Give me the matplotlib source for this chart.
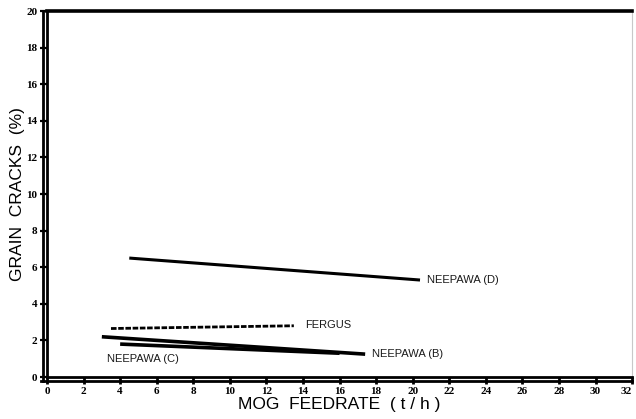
import matplotlib
matplotlib.use("Agg")
import matplotlib.pyplot as plt
import matplotlib.transforms as mtransforms
from matplotlib.lines import Line2D

# Regression lines of grain cracks against MOG feedrate
neepawa_d_x = [4.5, 20.4]
neepawa_d_y = [6.5, 5.3]
fergus_x = [3.5, 13.5]
fergus_y = [2.65, 2.8]
neepawa_b_x = [3.0, 17.4]
neepawa_b_y = [2.2, 1.25]
neepawa_c_x = [4.0, 16.0]
neepawa_c_y = [1.8, 1.3]

x_ticks = list(range(0, 33, 2))
y_ticks = list(range(0, 21, 2))

fig = plt.figure(figsize=(6.36, 4.19), dpi=100)
ax = fig.add_axes([0.0739, 0.1002, 0.92, 0.8735])
ax.set_xlim(0, 32)
ax.set_ylim(0, 20)

ax.plot(neepawa_d_x, neepawa_d_y, color="black", lw=2.2, solid_capstyle="butt")
ax.plot(fergus_x, fergus_y, color="black", lw=2.0, linestyle=(0, (2.0, 0.6)))
ax.plot(neepawa_b_x, neepawa_b_y, color="black", lw=2.6, solid_capstyle="butt")
ax.plot(neepawa_c_x, neepawa_c_y, color="black", lw=2.6, solid_capstyle="butt")

lab = dict(fontsize=8, family="Liberation Sans", color="#1a1a1a", va="center")
ax.text(20.8, 5.3, "NEEPAWA (D)", **lab)
ax.text(14.1, 2.85, "FERGUS", **lab)
ax.text(17.8, 1.25, "NEEPAWA (B)", **lab)
ax.text(3.3, 1.0, "NEEPAWA (C)", **lab)

# Frame: heavy double rules on the left and bottom, heavy top rule
for s in ("left", "bottom"):
    ax.spines[s].set_linewidth(2.0)
ax.spines["top"].set_linewidth(2.6)
ax.spines["right"].set_linewidth(0.8)
ax.spines["right"].set_color("#c8c8c8")

left_off = mtransforms.offset_copy(ax.transAxes, fig=fig, x=-3.6, y=0, units="dots")
ax.add_line(Line2D([0, 0], [-0.012, 1.0], transform=left_off, color="black",
                   lw=2.0, clip_on=False))
bot_off = mtransforms.offset_copy(ax.transAxes, fig=fig, x=0, y=-4.0, units="dots")
ax.add_line(Line2D([-0.01, 1.0], [0, 0], transform=bot_off, color="black",
                   lw=2.0, clip_on=False))

ax.set_xticks(x_ticks)
ax.set_yticks(y_ticks)
ax.tick_params(axis="x", direction="out", length=5, width=2.0, pad=2)
ax.tick_params(axis="y", direction="out", length=5, width=1.6, pad=2)
for t in ax.get_xticklabels() + ax.get_yticklabels():
    t.set_fontfamily("Liberation Serif")
    t.set_fontweight("bold")
    t.set_fontsize(8)
# keep the last x label inside the figure edge
ax.get_xticklabels()[-1].set_horizontalalignment("right")

ax.set_xlabel("MOG  FEEDRATE  ( t / h )", fontsize=12.5, family="Liberation Sans",
              labelpad=1)
ax.xaxis.set_label_coords(0.499, -0.055)
ax.set_ylabel("GRAIN  CRACKS  (%)", fontsize=12.5, family="Liberation Sans")
ax.yaxis.set_label_coords(-0.037, 0.5)

fig.savefig("out.png", dpi=100)
